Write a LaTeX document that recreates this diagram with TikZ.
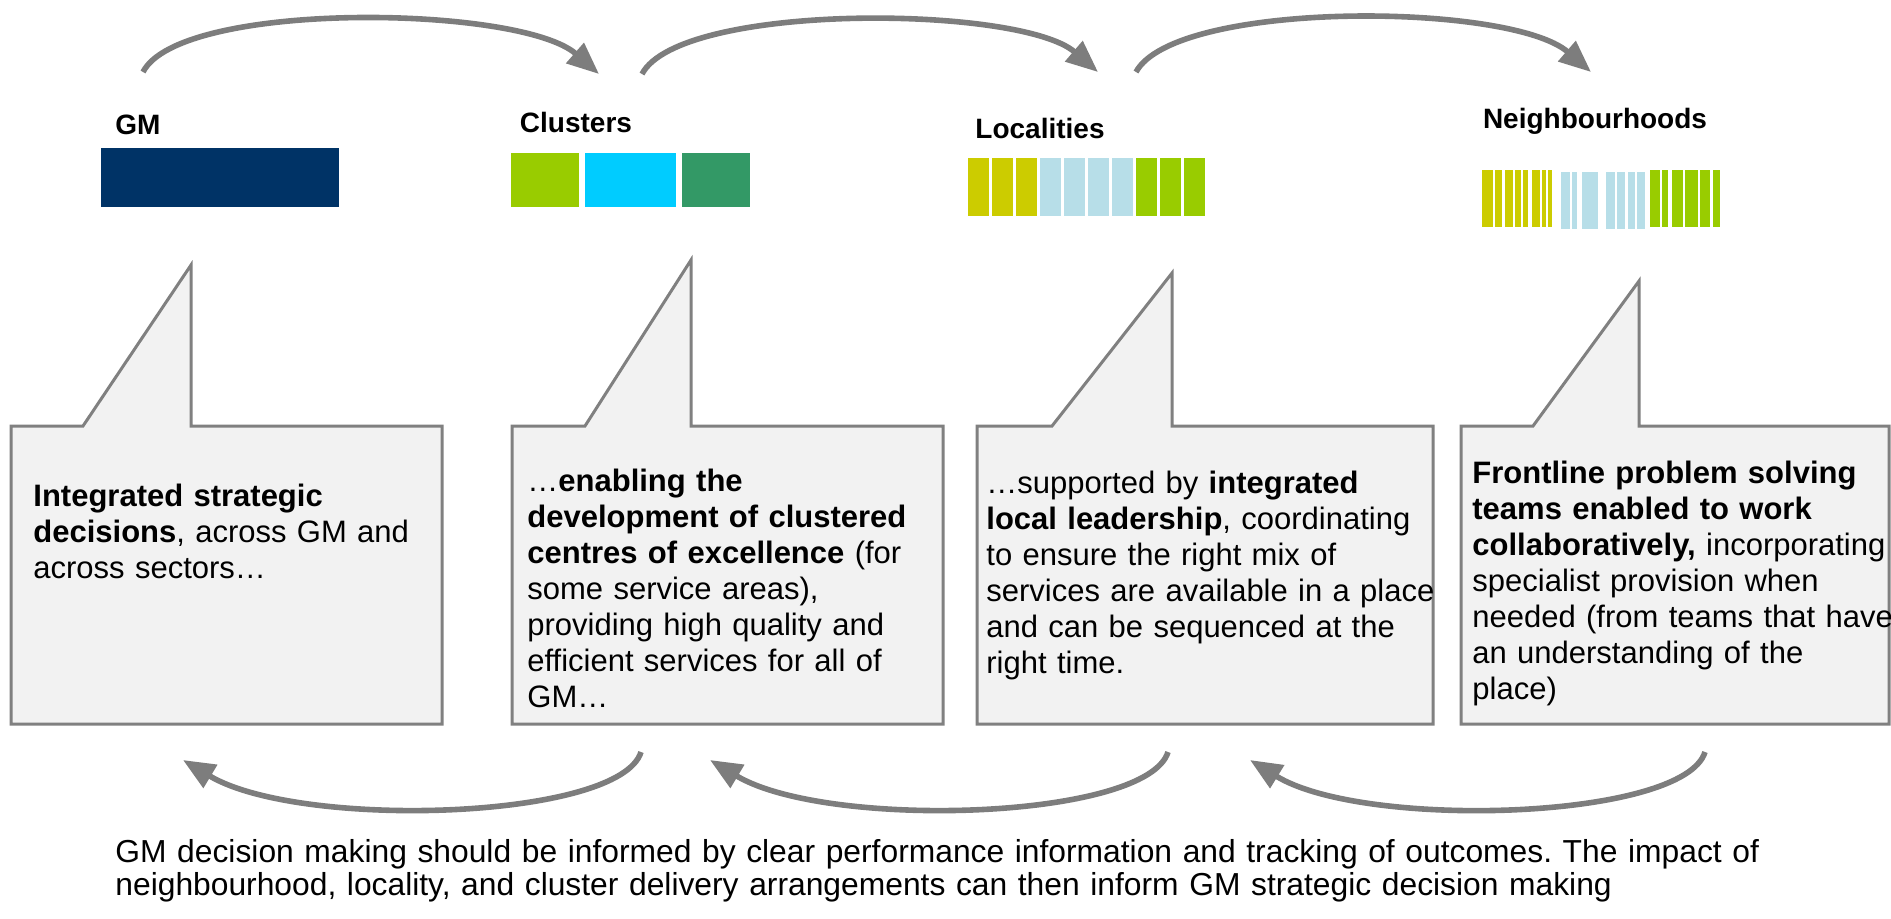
\documentclass[tikz,border=0pt]{standalone}
\usepackage{fontspec}
\setmainfont{Liberation Sans}
\usepackage{tikz}
\usetikzlibrary{arrows.meta}
\definecolor{gmnavy}{RGB}{0,51,102}
\definecolor{lime}{RGB}{153,204,0}
\definecolor{skyblue}{RGB}{0,204,255}
\definecolor{seagreen}{RGB}{51,153,102}
\definecolor{mustard}{RGB}{204,204,0}
\definecolor{paleblue}{RGB}{183,222,232}
\definecolor{bubblefill}{RGB}{242,242,242}
\definecolor{bubbleline}{RGB}{128,128,128}
\definecolor{arrowgray}{RGB}{125,125,125}
\frenchspacing

\begin{document}
\begin{tikzpicture}[x=0.5pt,y=-0.5pt,
    tierlabel/.style={font=\fontsize{14}{16}\selectfont\bfseries,inner sep=0pt},
    bubble/.style={fill=bubblefill,draw=bubbleline,line width=1.5pt},
    blurb/.style={anchor=base west,inner sep=0pt,text width=235pt,align=left,
        font=\fontsize{15.5}{18}\selectfont},
    flow/.style={draw=arrowgray,line width=2.8pt,-{Triangle[length=16pt,width=13pt]}}]
    \useasboundingbox (0,0) rectangle (1891,918);

    % TOP ARROWS
    \coordinate (t1s) at (143,72);  \coordinate (t1e) at (599,74);
    \coordinate (t2s) at (642,74);  \coordinate (t2e) at (1098,72);
    \coordinate (t3s) at (1136,72); \coordinate (t3e) at (1591,72);
    \draw [flow] (t1s) .. controls +(37,-72) and +(-79,-69) .. (t1e);
    \draw [flow] (t2s) .. controls +(38,-72) and +(-78,-67) .. (t2e);
    \draw [flow] (t3s) .. controls +(39,-72) and +(-81,-70) .. (t3e);

    % LABELS
    \node [tierlabel] (gm) at (138,125) {GM};
    \node [tierlabel] (clusters) at (576,122) {Clusters};
    \node [tierlabel] (localities) at (1040,128) {Localities};
    \node [tierlabel] (neighbourhoods) at (1595,121) {Neighbourhoods};

    % GM bar
    \fill [gmnavy] (101,148) rectangle (339,207);
    % cluster blocks
    \fill [lime] (511,153) rectangle (579,207);
    \fill [skyblue] (585,153) rectangle (676,207);
    \fill [seagreen] (682,153) rectangle (750,207);
    % locality bars
    \foreach \i/\c in {0/mustard,1/mustard,2/mustard,3/paleblue,4/paleblue,
        5/paleblue,6/paleblue,7/lime,8/lime,9/lime}
        \fill [\c] ({968+24*\i},158) rectangle ++(21,58);
    % neighbourhood stripes
    \foreach \a/\b in {1482/1493,1495/1502,1505/1513,1515/1521,1523/1528,
        1532/1540,1542/1546,1548/1552}
        \fill [mustard] (\a,170) rectangle (\b,227);
    \foreach \a/\b in {1561/1570,1572/1577,1582/1598,1606/1615,1617/1625,
        1628/1635,1637/1645}
        \fill [paleblue] (\a,172) rectangle (\b,229);
    \foreach \a/\b in {1650/1660,1662/1668,1672/1683,1685/1698,1700/1710,1713/1720}
        \fill [lime] (\a,170) rectangle (\b,227);

    % CALLOUTS
    \draw [bubble] (11,426) -- (83,426) -- (191,265) -- (191,426) -- (442,426)
        -- (442,724) -- (11,724) -- cycle;
    \draw [bubble] (512,426) -- (585,426) -- (691,260) -- (691,426) -- (943,426)
        -- (943,724) -- (512,724) -- cycle;
    \draw [bubble] (977,426) -- (1052,426) -- (1172,273) -- (1172,426) -- (1433,426)
        -- (1433,724) -- (977,724) -- cycle;
    \draw [bubble] (1461,426) -- (1533,426) -- (1639,281) -- (1639,426) -- (1889,426)
        -- (1889,724) -- (1461,724) -- cycle;

    \node [blurb] (gmtext) at (33,506)
        {\textbf{Integrated strategic}\\
        \textbf{decisions}, across GM and\\
        across sectors…};
    \node [blurb] (clusterstext) at (527,491)
        {…\textbf{enabling the}\\
        \textbf{development of clustered}\\
        \textbf{centres of excellence} (for\\
        some service areas),\\
        providing high quality and\\
        efficient services for all of\\
        GM…};
    \node [blurb] (localitiestext) at (986,493)
        {…supported by \textbf{integrated}\\
        \textbf{local leadership}, coordinating\\
        to ensure the right mix of\\
        services are available in a place\\
        and can be sequenced at the\\
        right time.};
    \node [blurb] (neighbourhoodstext) at (1472,483)
        {\textbf{Frontline problem solving}\\
        \textbf{teams enabled to work}\\
        \textbf{collaboratively,} incorporating\\
        specialist provision when\\
        needed (from teams that have\\
        an understanding of the\\
        place)};

    % BOTTOM ARROWS (feedback)
    \coordinate (b1s) at (641,752);  \coordinate (b1e) at (183,760);
    \coordinate (b2s) at (1168,752); \coordinate (b2e) at (710,760);
    \coordinate (b3s) at (1705,752); \coordinate (b3e) at (1250,760);
    \draw [flow] (b1s) .. controls +(-21,68) and +(117,70) .. (b1e);
    \draw [flow] (b2s) .. controls +(-21,68) and +(117,70) .. (b2e);
    \draw [flow] (b3s) .. controls +(-21,68) and +(114,70) .. (b3e);

    \node [blurb,text width=900pt,font=\fontsize{15.9}{16.5}\selectfont] (summary) at (115,862)
        {GM decision making should be informed by clear performance information and tracking of outcomes. The impact of\\
        neighbourhood, locality, and cluster delivery arrangements can then inform GM strategic decision making};
\end{tikzpicture}
\end{document}
